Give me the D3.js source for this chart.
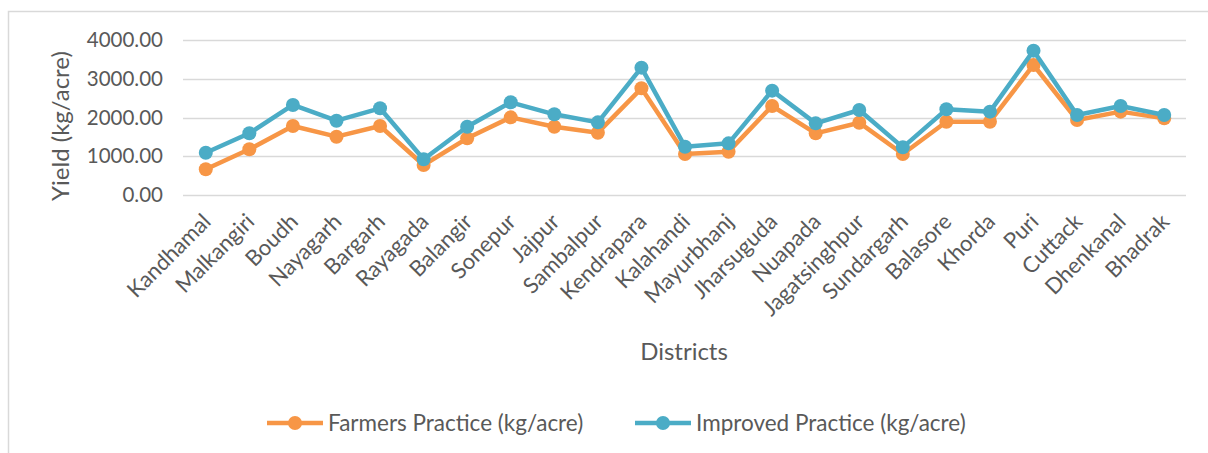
<!DOCTYPE html>
<html><head><meta charset="utf-8">
<script src="https://cdn.jsdelivr.net/npm/d3@7"></script>
<style>
body{margin:0;background:#fff;}
svg{display:block;font-family:Lato, "Open Sans", sans-serif;}
</style></head>
<body><svg id="c" width="1208" height="453"></svg>
<script>
const districts = ["Kandhamal","Malkangiri","Boudh","Nayagarh","Bargarh","Rayagada","Balangir","Sonepur","Jajpur","Sambalpur","Kendrapara","Kalahandi","Mayurbhanj","Jharsuguda","Nuapada","Jagatsinghpur","Sundargarh","Balasore","Khorda","Puri","Cuttack","Dhenkanal","Bhadrak"];
const farmers = [663,1179,1781,1505,1781,774,1462,2004,1763,1608,2753,1058,1118,2297,1591,1866,1058,1892,1892,3355,1935,2151,1978];
const improved = [1092,1592,2323,1918,2237,921,1763,2392,2082,1875,3286,1247,1333,2693,1849,2194,1230,2211,2151,3725,2065,2297,2065];
const yTicks = [0,1000,2000,3000,4000];
const seriesNames = ["Farmers Practice (kg/acre)","Improved Practice (kg/acre)"];
const colors = ["#F79646","#4BACC6"];

const svg = d3.select("#c");
svg.append("rect").attr("x",8.5).attr("y",11.5).attr("width",1220).attr("height",460)
  .attr("fill","#fff").attr("stroke","#d9d9d9").attr("stroke-width",1.5);

const pLeft=184, pRight=1186, pTop=40, pBottom=195;
const x = d3.scalePoint().domain(districts).range([pLeft,pRight]).padding(0.5);
const y = d3.scaleLinear().domain([0,4000]).range([pBottom,pTop]);

// gridlines
svg.append("g").selectAll("line").data(yTicks).join("line")
  .attr("x1",pLeft-1).attr("x2",pRight).attr("y1",d=>Math.round(y(d))+0.5).attr("y2",d=>Math.round(y(d))+0.5)
  .attr("stroke","#d9d9d9").attr("stroke-width",1.3);

// y axis labels
const yAxis = d3.axisLeft(y).tickValues(yTicks).tickFormat(d3.format(".2f")).tickSize(0).tickPadding(21);
const yg = svg.append("g").attr("transform",`translate(${pLeft},0)`).call(yAxis);
yg.select(".domain").remove();
yg.selectAll("text").attr("font-size",20.5).attr("fill","#595959").attr("font-family","Lato, sans-serif");

// x axis labels
const xAxis = d3.axisBottom(x).tickSize(0).tickPadding(0);
const xg = svg.append("g").attr("transform",`translate(0,${pBottom})`).call(xAxis);
xg.select(".domain").remove();
xg.selectAll("text").attr("font-size",22).attr("fill","#595959").attr("font-family","Lato, sans-serif")
  .attr("text-anchor","end").attr("dy",0)
  .attr("transform","translate(6,28) rotate(-45)");

// axis titles
svg.append("text").attr("transform","translate(69,126) rotate(-90)").attr("text-anchor","middle")
  .attr("font-size",24).attr("fill","#595959").text("Yield (kg/acre)");
svg.append("text").attr("x",684).attr("y",360).attr("text-anchor","middle")
  .attr("font-size",24).attr("fill","#595959").text("Districts");

// series
const data = [farmers, improved];
data.forEach((vals,i)=>{
  const line = d3.line().x((d,j)=>x(districts[j])).y(d=>y(d));
  svg.append("path").datum(vals).attr("d",line).attr("fill","none")
    .attr("stroke",colors[i]).attr("stroke-width",4.5).attr("stroke-linejoin","round");
  svg.append("g").selectAll("circle").data(vals).join("circle")
    .attr("cx",(d,j)=>x(districts[j])).attr("cy",d=>y(d)).attr("r",7).attr("fill",colors[i]);
});

// legend
const legX = [267, 635];
seriesNames.forEach((n,i)=>{
  const g = svg.append("g").attr("transform",`translate(${legX[i]},423)`);
  g.append("line").attr("x1",0).attr("x2",56).attr("stroke",colors[i]).attr("stroke-width",4.5);
  g.append("circle").attr("cx",28).attr("r",7).attr("fill",colors[i]);
  g.append("text").attr("x",61).attr("y",8).attr("font-size",22.5).attr("fill","#595959").text(n);
});
</script></body></html>
